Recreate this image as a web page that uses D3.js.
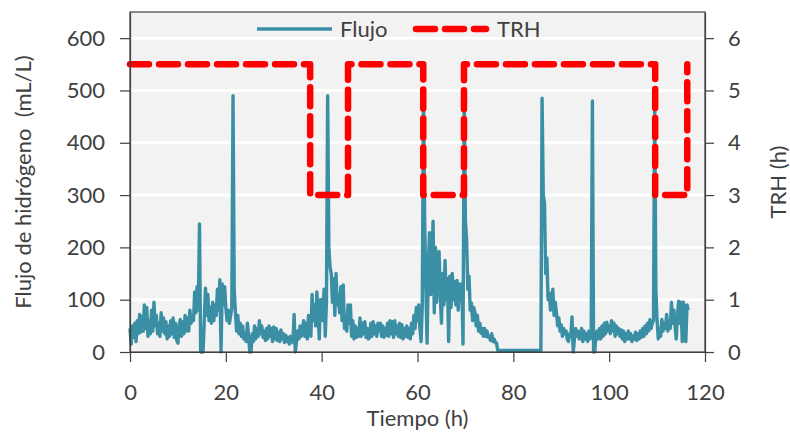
<!DOCTYPE html>
<html>
<head>
<meta charset="utf-8">
<script src="https://cdn.jsdelivr.net/npm/d3@7"></script>
<style>
  body { margin: 0; background: #fff; }
  svg { display: block; font-family: Lato, "Open Sans", sans-serif; }
</style>
</head>
<body>
<div id="container"></div>
<script>
const { d3 } = window;

// Flujo de hidrógeno (mL/L), one reading every quarter hour from t = 0 h (8 readings = 2 h per row)
const PASO = 0.25;
const flujo = [
  45, 15, 50, 28, 55, 20, 60, 35,
  72, 38, 68, 40, 90, 45, 85, 30,
  60, 35, 80, 40, 95, 50, 70, 35,
  55, 30, 75, 40, 65, 35, 58, 25,
  50, 30, 60, 35, 65, 28, 55, 22,
  17, 50, 62, 30, 58, 35, 70, 40,
  65, 40, 80, 55, 70, 60, 115, 75,
  125, 80, 245, 0, 0, 0, 60, 122,
  70, 110, 60, 85, 55, 95, 60, 90,
  70, 120, 80, 138, 0, 130, 90, 125,
  85, 60, 80, 55, 70, 85, 490, 120,
  75, 40, 70, 35, 55, 30, 50, 25,
  35, 20, 55, 30, 0, 0, 35, 20,
  50, 25, 45, 30, 60, 35, 50, 28,
  40, 22, 45, 25, 50, 30, 45, 20,
  48, 25, 45, 22, 38, 20, 42, 25,
  35, 18, 32, 20, 28, 15, 30, 20,
  18, 72, 0, 20, 40, 25, 50, 30,
  45, 60, 30, 55, 25, 70, 50, 30,
  110, 60, 90, 50, 115, 70, 25, 100,
  100, 60, 120, 30, 95, 490, 200, 163,
  150, 95, 140, 70, 150, 90, 110, 75,
  125, 60, 128, 45, 70, 40, 90, 55,
  90, 30, 60, 25, 50, 28, 45, 30,
  65, 30, 55, 35, 58, 28, 45, 25,
  28, 55, 30, 58, 35, 50, 30, 55,
  40, 55, 30, 50, 28, 45, 32, 55,
  30, 60, 35, 58, 28, 60, 35, 50,
  30, 55, 28, 52, 25, 45, 30, 50,
  28, 45, 25, 55, 35, 70, 45, 85,
  60, 90, 45, 20, 90, 502, 250, 120,
  17, 160, 228, 110, 180, 250, 75, 200,
  95, 170, 192, 110, 55, 150, 90, 175,
  100, 140, 20, 145, 85, 150, 100, 135,
  90, 137, 80, 130, 100, 130, 15, 490,
  250, 215, 120, 145, 80, 94, 60, 85,
  75, 50, 70, 40, 55, 36, 45, 30,
  45, 30, 40, 28, 30, 22, 35, 20,
  25, 18, 17, 3, 3, 3, 3, 3,
  3, 3, 3, 3, 3, 3, 3, 3,
  3, 3, 3, 3, 3, 3, 3, 3,
  3, 3, 3, 3, 3, 3, 3, 3,
  3, 3, 3, 3, 3, 3, 3, 3,
  485, 300, 285, 150, 180, 100, 113, 80,
  90, 120, 70, 95, 75, 50, 65, 40,
  52, 30, 45, 35, 40, 25, 20, 35,
  30, 67, 0, 25, 45, 30, 40, 25,
  30, 45, 20, 40, 25, 35, 20, 40,
  25, 30, 480, 0, 0, 35, 40, 25,
  45, 25, 50, 30, 55, 35, 57, 40,
  50, 35, 60, 40, 55, 30, 50, 35,
  45, 30, 42, 25, 40, 20, 35, 25,
  40, 25, 35, 20, 30, 25, 38, 22,
  35, 25, 40, 28, 45, 30, 50, 35,
  55, 40, 62, 45, 55, 60, 490, 119,
  60, 25, 45, 30, 62, 40, 55, 45,
  72, 40, 60, 45, 95, 55, 80, 50,
  25, 70, 97, 55, 95, 20, 95, 60,
  20, 90, 80
];

// TRH (h) step series
const trhTiempo = [0, 37.6, 37.6, 45.5, 45.5, 61.2, 61.2, 69.7, 69.7, 109.6, 109.6, 116.3, 116.3];
const trhValor = [5.5, 5.5, 3, 3, 5.5, 5.5, 3, 3, 5.5, 5.5, 3, 3, 5.5];

const xTicks = [0, 20, 40, 60, 80, 100, 120];
const yTicks = [0, 100, 200, 300, 400, 500, 600];
const y2Ticks = [0, 1, 2, 3, 4, 5, 6];

const W = 790;
const H = 435;
const margin = { top: 12, right: 85, bottom: 83, left: 130 };
const TEAL = '#3b8fa4';
const RED = '#ff0000';
const INK = '#404040';

function boot() {
  const svg = d3.select('#container').append('svg')
    .attr('width', W)
    .attr('height', H);

  const x = d3.scaleLinear().domain([0, 120]).range([margin.left, W - margin.right]);
  const y = d3.scaleLinear().domain([0, 650]).range([H - margin.bottom, margin.top]);
  const y2 = d3.scaleLinear().domain([0, 6.5]).range([H - margin.bottom, margin.top]);

  // plot background + grid
  svg.append('rect')
    .attr('x', x(0)).attr('y', y(650))
    .attr('width', x(120) - x(0)).attr('height', y(0) - y(650))
    .attr('fill', '#f2f2f2');

  svg.append('g')
    .selectAll('line')
    .data(yTicks.filter((d) => d > 0))
    .join('line')
    .attr('x1', x(0)).attr('x2', x(120))
    .attr('y1', (d) => y(d)).attr('y2', (d) => y(d))
    .attr('stroke', '#fff')
    .attr('stroke-width', 3);

  // series
  const flujoLine = d3.line()
    .x((d, i) => x(i * PASO))
    .y((d) => y(d));

  svg.append('path')
    .datum(flujo)
    .attr('d', flujoLine)
    .attr('fill', 'none')
    .attr('stroke', TEAL)
    .attr('stroke-width', 3.4)
    .attr('stroke-linejoin', 'round');

  const trhLine = d3.line()
    .x((d) => x(trhTiempo[d]))
    .y((d) => y2(trhValor[d]));

  svg.append('path')
    .datum(d3.range(trhTiempo.length))
    .attr('d', trhLine)
    .attr('fill', 'none')
    .attr('stroke', RED)
    .attr('stroke-width', 6.5)
    .attr('stroke-dasharray', '19,10')
    .attr('stroke-linecap', 'round')
    .attr('stroke-linejoin', 'round');

  // frame
  svg.append('rect')
    .attr('x', x(0)).attr('y', y(650))
    .attr('width', x(120) - x(0)).attr('height', y(0) - y(650))
    .attr('fill', 'none')
    .attr('stroke', INK)
    .attr('stroke-width', 1.2);

  // axes
  const fontSize = '22px';
  const gx = svg.append('g')
    .attr('transform', `translate(0,${y(0)})`)
    .call(d3.axisBottom(x).tickValues(xTicks).tickSize(10).tickPadding(22).tickSizeOuter(0));
  const gy = svg.append('g')
    .attr('transform', `translate(${x(0)},0)`)
    .call(d3.axisLeft(y).tickValues(yTicks).tickSize(10).tickPadding(15).tickSizeOuter(0));
  const gy2 = svg.append('g')
    .attr('transform', `translate(${x(120)},0)`)
    .call(d3.axisRight(y2).tickValues(y2Ticks).tickFormat(d3.format('d'))
      .tickSize(9).tickPadding(14).tickSizeOuter(0));

  [gx, gy, gy2].forEach((g) => {
    g.select('.domain').attr('stroke', INK).attr('stroke-width', 1.2);
    g.selectAll('.tick line').attr('stroke', INK).attr('stroke-width', 1.2);
    g.selectAll('.tick text')
      .attr('fill', INK)
      .style('font-size', fontSize)
      .style('font-family', 'Lato, "Open Sans", sans-serif');
  });

  // titles
  svg.append('text')
    .attr('x', (x(0) + x(120)) / 2)
    .attr('y', 426)
    .attr('text-anchor', 'middle')
    .attr('fill', INK)
    .style('font-size', fontSize)
    .text('Tiempo (h)');

  svg.append('text')
    .attr('transform', `translate(31,${(y(0) + y(650)) / 2}) rotate(-90)`)
    .attr('text-anchor', 'middle')
    .attr('fill', INK)
    .style('font-size', fontSize)
    .style('white-space', 'pre')
    .text('Flujo de hidrógeno  (mL/L)');

  svg.append('text')
    .attr('transform', `translate(786,${(y(0) + y(650)) / 2}) rotate(-90)`)
    .attr('text-anchor', 'middle')
    .attr('fill', INK)
    .style('font-size', fontSize)
    .text('TRH (h)');

  // legend
  const legend = svg.append('g');
  const ly = 29;
  legend.append('line')
    .attr('x1', 257).attr('x2', 332).attr('y1', ly).attr('y2', ly)
    .attr('stroke', TEAL).attr('stroke-width', 3.4);
  legend.append('text')
    .attr('x', 340).attr('y', ly).attr('dy', '0.35em')
    .attr('fill', INK).style('font-size', fontSize)
    .text('Flujo');
  legend.append('line')
    .attr('x1', 416).attr('x2', 486).attr('y1', ly).attr('y2', ly)
    .attr('stroke', RED).attr('stroke-width', 6.5)
    .attr('stroke-dasharray', '19,10')
    .attr('stroke-linecap', 'round');
  legend.append('text')
    .attr('x', 497).attr('y', ly).attr('dy', '0.35em')
    .attr('fill', INK).style('font-size', fontSize)
    .text('TRH');
}

boot();
</script>
</body>
</html>
